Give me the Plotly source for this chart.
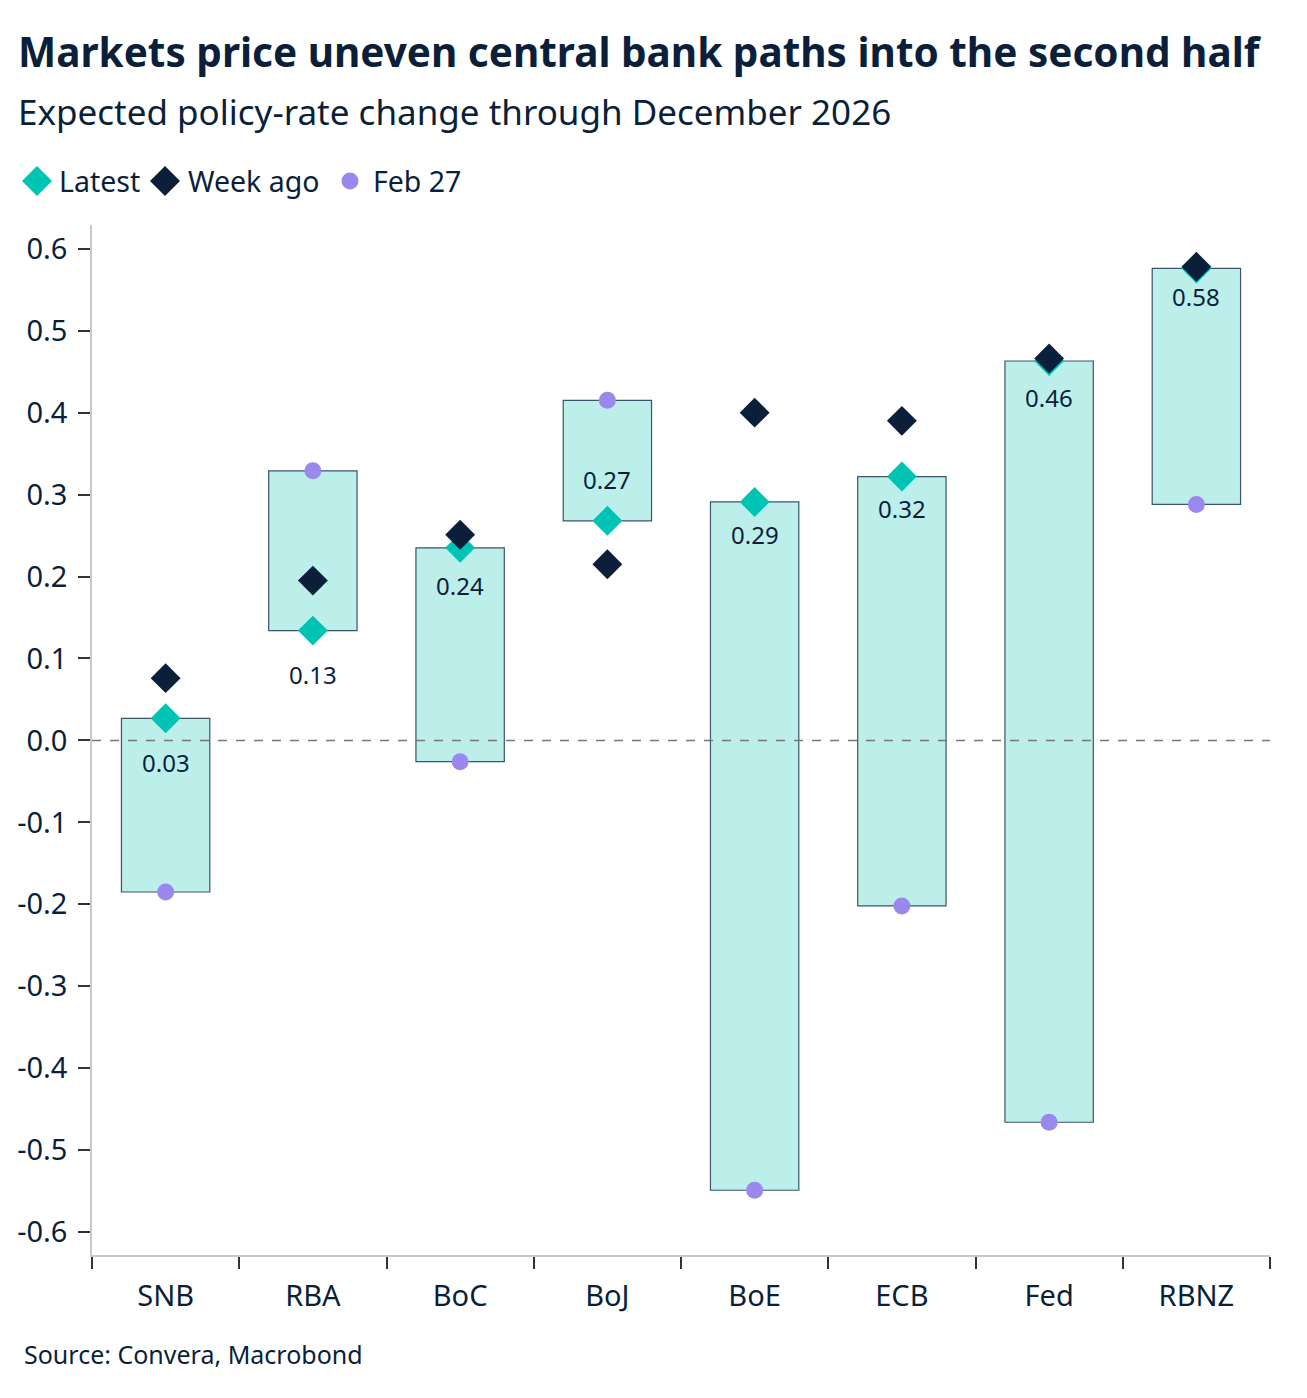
import plotly.graph_objects as go

categories = ["SNB", "RBA", "BoC", "BoJ", "BoE", "ECB", "Fed", "RBNZ"]
latest = [0.027, 0.134, 0.235, 0.268, 0.291, 0.322, 0.463, 0.576]
week_ago = [0.076, 0.195, 0.251, 0.215, 0.400, 0.390, 0.466, 0.578]
feb27 = [-0.185, 0.329, -0.026, 0.415, -0.549, -0.202, -0.466, 0.288]
latest_labels = ["0.03", "0.13", "0.24", "0.27", "0.29", "0.32", "0.46", "0.58"]
y_ticks = [-0.6, -0.5, -0.4, -0.3, -0.2, -0.1, 0.0, 0.1, 0.2, 0.3, 0.4, 0.5, 0.6]
series_names = ["Latest", "Week ago", "Feb 27"]

# label pixel offsets (style)
label_shift = [-44, -44, -38, 41, -33, -32, -36, -28]

NAVY = "#0B1F3A"
TEAL = "#00C4B3"
LAV = "#9A88EE"
FONT = "Noto Sans"

W, H = 1307, 1398
ML, MR, MT, MB = 92, 37, 225, 143
PW, PH = W - ML - MR, H - MT - MB


def px(x):
    return (x - ML) / PW


def py(y):
    return (H - MB - y) / PH


fig = go.Figure()

bases = [min(a, b) for a, b in zip(latest, feb27)]
heights = [abs(a - b) for a, b in zip(latest, feb27)]
fig.add_trace(go.Bar(
    x=categories, y=heights, base=bases, width=0.6,
    marker=dict(color="#BDEFEA", line=dict(color="#3A5468", width=1.2)),
    showlegend=False, hoverinfo="skip",
))
fig.add_trace(go.Scatter(
    x=categories, y=latest, mode="markers", name=series_names[0],
    marker=dict(symbol="diamond", size=23, color=TEAL), showlegend=False,
))
fig.add_trace(go.Scatter(
    x=categories, y=week_ago, mode="markers", name=series_names[1],
    marker=dict(symbol="diamond", size=23, color=NAVY), showlegend=False,
))
fig.add_trace(go.Scatter(
    x=categories, y=feb27, mode="markers", name=series_names[2],
    marker=dict(symbol="circle", size=17, color=LAV), showlegend=False,
))

annotations = []
for c, v, t, s in zip(categories, latest, latest_labels, label_shift):
    annotations.append(dict(x=c, y=v, text=t, showarrow=False, yshift=s,
                            font=dict(family=FONT, size=24, color=NAVY)))

annotations.append(dict(
    text="<b>Markets price uneven central bank paths into the second half</b>",
    xref="paper", yref="paper", x=px(16), y=py(52), xanchor="left", yanchor="middle",
    showarrow=False, font=dict(family=FONT, size=40.5, color=NAVY)))
annotations.append(dict(
    text="Expected policy-rate change through December 2026",
    xref="paper", yref="paper", x=px(16), y=py(112), xanchor="left", yanchor="middle",
    showarrow=False, font=dict(family=FONT, size=35, color=NAVY)))
annotations.append(dict(
    text="Source: Convera, Macrobond",
    xref="paper", yref="paper", x=px(22), y=py(1354), xanchor="left", yanchor="middle",
    showarrow=False, font=dict(family=FONT, size=25, color=NAVY)))

# manual legend
shapes = []
leg_y = 181
legend_items = [(37, TEAL, "diamond", 59), (165, NAVY, "diamond", 188), (350, LAV, "circle", 373)]
for (cx, col, sym, tx), name in zip(legend_items, series_names):
    if sym == "diamond":
        r = 15
        path = (f"M {px(cx)} {py(leg_y - r)} L {px(cx + r)} {py(leg_y)} "
                f"L {px(cx)} {py(leg_y + r)} L {px(cx - r)} {py(leg_y)} Z")
        shapes.append(dict(type="path", xref="paper", yref="paper", path=path,
                           fillcolor=col, line=dict(width=0)))
    else:
        r = 8.5
        shapes.append(dict(type="circle", xref="paper", yref="paper",
                           x0=px(cx - r), x1=px(cx + r), y0=py(leg_y + r), y1=py(leg_y - r),
                           fillcolor=col, line=dict(width=0)))
    annotations.append(dict(text=name, xref="paper", yref="paper", x=px(tx - 2), y=py(leg_y),
                            xanchor="left", yanchor="middle", showarrow=False,
                            font=dict(family=FONT, size=28.5, color=NAVY)))

shapes.append(dict(type="line", xref="paper", x0=0, x1=1, y0=0, y1=0, yref="y",
                   line=dict(color="#777777", width=1.5, dash="dash")))

fig.update_layout(
    width=W, height=H,
    margin=dict(l=ML, r=MR, t=MT, b=MB),
    paper_bgcolor="white", plot_bgcolor="white",
    font=dict(family=FONT, color=NAVY),
    showlegend=False,
    annotations=annotations,
    shapes=shapes,
)
fig.update_xaxes(
    showline=True, linecolor="#C8C8C8", linewidth=1.5,
    ticks="outside", tickson="boundaries", ticklen=12, tickcolor="#333333", tickwidth=2,
    tickfont=dict(family=FONT, size=29, color=NAVY), showgrid=False,
    ticklabelstandoff=14,
)
fig.update_yaxes(
    range=[-0.628, 0.629], tickvals=y_ticks, ticktext=[f"{v:.1f}" for v in y_ticks],
    showline=True, linecolor="#C8C8C8", linewidth=1.5,
    ticks="outside", ticklen=12, tickcolor="#333333", tickwidth=1.5,
    tickfont=dict(family=FONT, size=29, color=NAVY), showgrid=False, zeroline=False,
    ticklabelstandoff=5,
)

fig.write_html("out.html")
